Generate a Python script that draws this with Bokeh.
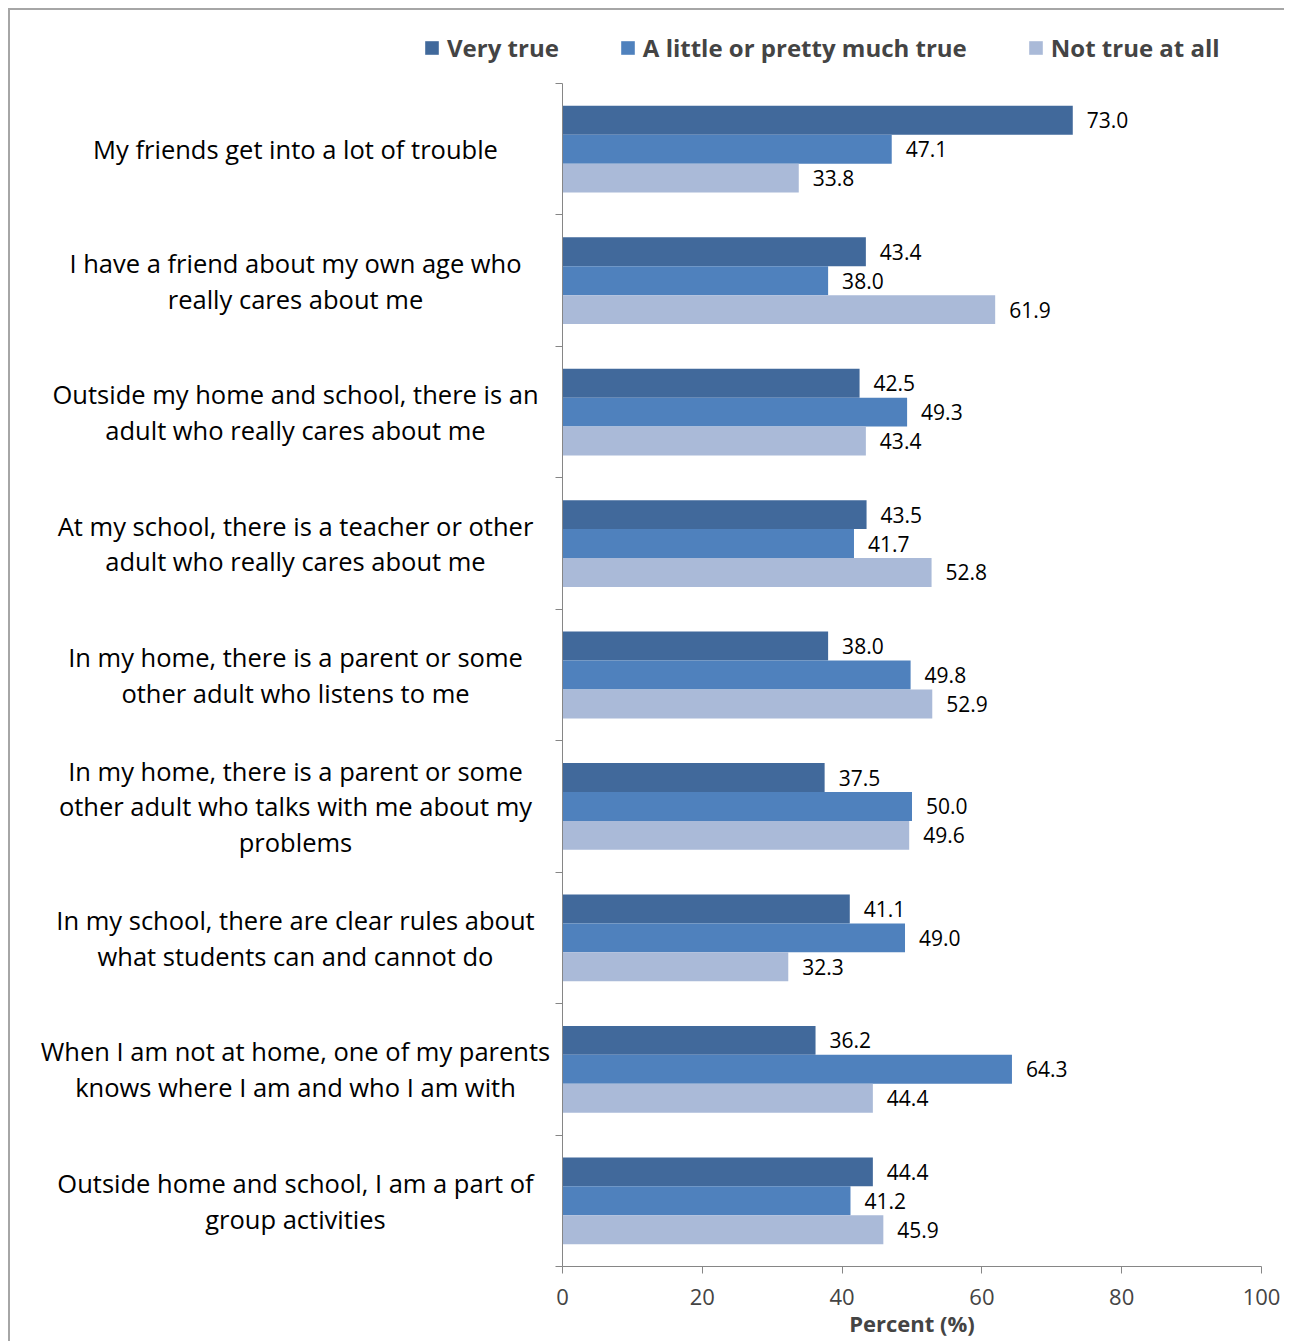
from bokeh.plotting import figure
from bokeh.layouts import column, row
from bokeh.models import (ColumnDataSource, Range1d, FixedTicker, Legend, LegendItem)
from bokeh.transform import dodge
from bokeh.core.properties import value
from bokeh.embed import file_html
from bokeh.resources import INLINE

categories = [
    "My friends get into a lot of trouble",
    "I have a friend about my own age who\nreally cares about me",
    "Outside my home and school, there is an\nadult who really cares about me",
    "At my school, there is a teacher or other\nadult who really cares about me",
    "In my home, there is a parent or some\nother adult who listens to me",
    "In my home, there is a parent or some\nother adult who talks with me about my\nproblems",
    "In my school, there are clear rules about\nwhat students can and cannot do",
    "When I am not at home, one of my parents\nknows where I am and who I am with",
    "Outside home and school, I am a part of\ngroup activities",
]
series_names = ["Very true", "A little or pretty much true", "Not true at all"]
very_true = [73.0, 43.4, 42.5, 43.5, 38.0, 37.5, 41.1, 36.2, 44.4]
little_true = [47.1, 38.0, 49.3, 41.7, 49.8, 50.0, 49.0, 64.3, 41.2]
not_true = [33.8, 61.9, 43.4, 52.8, 52.9, 49.6, 32.3, 44.4, 45.9]
x_ticks = [0, 20, 40, 60, 80, 100]

colors = ["#41699B", "#4F81BD", "#AABAD8"]
FONT = "Open Sans"
AXIS_COLOR = "#868686"

n = len(categories)
pos = [i + 0.5 for i in range(n)]
src = ColumnDataSource(dict(
    y=pos, cat=categories, v0=very_true, v1=little_true, v2=not_true,
    t0=[f"{v:.1f}" for v in very_true],
    t1=[f"{v:.1f}" for v in little_true],
    t2=[f"{v:.1f}" for v in not_true],
))

y_range = Range1d(n, 0)

# ---------------- main chart ----------------
p = figure(width=732, height=1258, output_backend="svg", toolbar_location=None,
           x_range=Range1d(0, 100), y_range=y_range,
           min_border_left=10, min_border_right=23, min_border_top=0,
           min_border_bottom=75)
p.outline_line_color = None
p.xgrid.visible = False
p.ygrid.visible = False

bh = 0.22
offsets = [-bh, 0.0, bh]
for k in range(3):
    p.hbar(y=dodge("y", offsets[k], range=y_range), right=f"v{k}", left=0,
           height=bh, source=src, fill_color=colors[k], line_color=None)
    p.text(x=f"v{k}", y=dodge("y", offsets[k], range=y_range), text=f"t{k}",
           source=src, x_offset=14, text_baseline="middle", text_align="left",
           text_font=value(FONT), text_font_size="21px", text_color="black")

p.xaxis.ticker = FixedTicker(ticks=x_ticks)
p.xaxis.axis_label = "Percent (%)"
p.xaxis.axis_label_text_font = FONT
p.xaxis.axis_label_text_font_style = "bold"
p.xaxis.axis_label_text_font_size = "22px"
p.xaxis.axis_label_standoff = 0
p.xaxis.major_label_text_font = FONT
p.xaxis.major_label_text_font_size = "22px"
p.xaxis.major_label_standoff = 15
p.xaxis.major_tick_out = 7
p.xaxis.major_tick_in = 0
p.xaxis.minor_tick_line_color = None
p.xaxis.axis_line_color = AXIS_COLOR
p.xaxis.major_tick_line_color = AXIS_COLOR

p.yaxis.ticker = FixedTicker(ticks=pos, minor_ticks=list(range(n + 1)))
p.yaxis.major_label_overrides = {pp: "" for pp in pos}
p.yaxis.major_label_text_font_size = "1px"
p.yaxis.major_label_standoff = 0
p.yaxis.major_tick_line_color = None
p.yaxis.major_tick_out = 0
p.yaxis.major_tick_in = 0
p.yaxis.minor_tick_out = 7
p.yaxis.minor_tick_in = 0
p.yaxis.minor_tick_line_color = AXIS_COLOR
p.yaxis.axis_line_color = AXIS_COLOR

# ---------------- category labels ----------------
lab = figure(width=542, height=1258, output_backend="svg", toolbar_location=None,
             x_range=Range1d(0, 542), y_range=y_range,
             x_axis_location=None, y_axis_location=None,
             min_border_left=0, min_border_right=0, min_border_top=0,
             min_border_bottom=75)
lab.outline_line_color = None
lab.xgrid.visible = False
lab.ygrid.visible = False
lab.text(x=285, y="y", text="cat", source=src, text_align="center",
         text_baseline="middle", text_font=value(FONT), text_font_size="25.5px",
         text_line_height=1.05, text_color="black")

# ---------------- legend strip ----------------
leg = figure(width=1274, height=73, output_backend="svg", toolbar_location=None,
             x_range=Range1d(-10, -5), y_range=Range1d(0, 1),
             x_axis_location=None, y_axis_location=None,
             min_border_left=0, min_border_right=0, min_border_top=0, min_border_bottom=0)
leg.outline_line_color = None
leg.xgrid.visible = False
leg.ygrid.visible = False
dummies = [leg.hbar(y=0.5, right=f"v{k}", left=0, height=0.5, source=src,
                    fill_color=colors[k], line_color=None) for k in range(3)]
legend = Legend(items=[LegendItem(label=s, renderers=[r]) for s, r in zip(series_names, dummies)],
                orientation="horizontal", location=(413, 19),
                label_text_font=FONT, label_text_font_style="bold", label_text_font_size="24px",
                glyph_width=17, glyph_height=17, label_standoff=7, spacing=60,
                padding=0, margin=0, border_line_color=None, background_fill_alpha=0)
leg.add_layout(legend, "center")

layout = column(leg, row(lab, p), margin=(8, 0, 0, 8),
                styles={"border-top": "2px solid #a6a6a6", "border-left": "2px solid #a6a6a6"})
open("out.html", "w").write(file_html(layout, INLINE))
